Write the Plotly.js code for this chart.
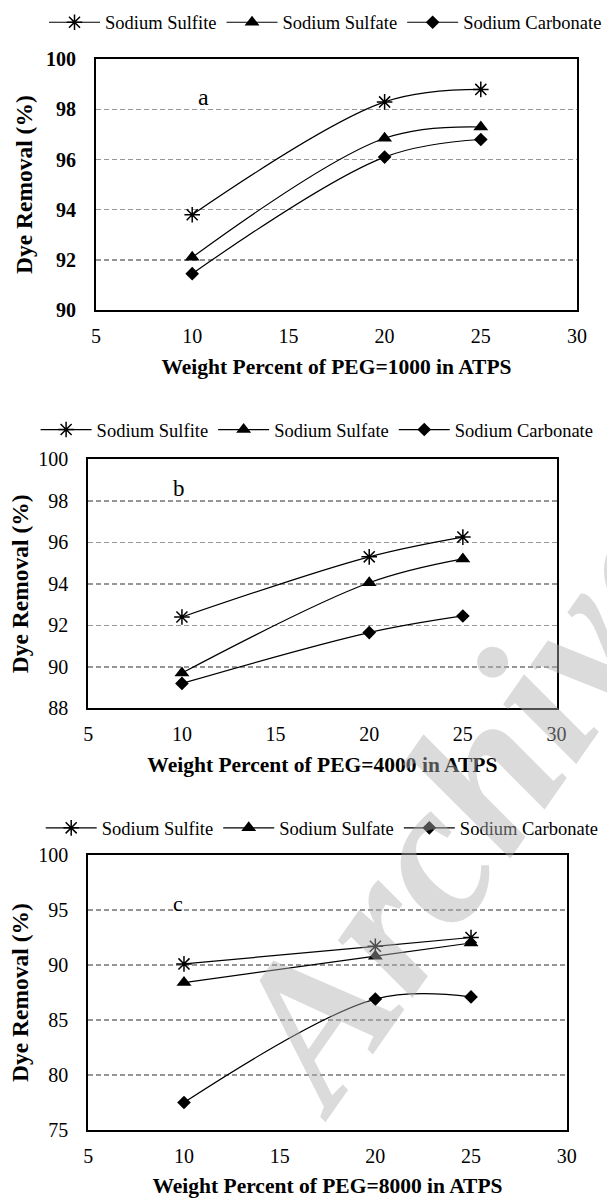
<!DOCTYPE html>
<html><head><meta charset="utf-8">
<script src="https://cdn.plot.ly/plotly-3.0.1.min.js"></script>
<style>html,body{margin:0;padding:0;background:#fff}</style>
</head><body>
<div id="chart" style="width:607px;height:1198px"></div>
<script>
const xPeg = [10, 20, 25];
const seriesNames = ['Sodium Sulfite', 'Sodium Sulfate', 'Sodium Carbonate'];
const peg1000Sulfite = [93.8, 98.3, 98.8];
const peg1000Sulfate = [92.1, 96.85, 97.3];
const peg1000Carbonate = [91.45, 96.1, 96.8];
const peg4000Sulfite = [92.4, 95.3, 96.25];
const peg4000Sulfate = [89.7, 94.05, 95.2];
const peg4000Carbonate = [89.2, 91.65, 92.45];
const peg8000Sulfite = [90.1, 91.7, 92.5];
const peg8000Sulfate = [88.4, 90.8, 92.0];
const peg8000Carbonate = [77.5, 86.9, 87.1];
const xTickVals = [5, 10, 15, 20, 25, 30];
const panelLetters = ['a', 'b', 'c'];
const xTitles = ['Weight Percent of PEG=1000 in ATPS', 'Weight Percent of PEG=4000 in ATPS', 'Weight Percent of PEG=8000 in ATPS'];
const yTitle = 'Dye Removal (%)';
const watermarkText = 'Archive';

const FONT = 'Liberation Serif, Times New Roman, serif';
const markers = [
  {symbol: 'asterisk-open', size: 13, color: '#000', line: {color: '#000', width: 1.5}},
  {symbol: 'triangle-up', size: 13, color: '#000', line: {width: 0}},
  {symbol: 'diamond', size: 10.5, color: '#000', line: {width: 0}}
];
const panels = [
  [peg1000Sulfite, peg1000Sulfate, peg1000Carbonate],
  [peg4000Sulfite, peg4000Sulfate, peg4000Carbonate],
  [peg8000Sulfite, peg8000Sulfate, peg8000Carbonate]
];
const traces = [];
panels.forEach((series, p) => {
  series.forEach((ys, s) => {
    traces.push({
      type: 'scatter', mode: 'lines+markers',
      x: xPeg, y: ys, name: seriesNames[s],
      xaxis: p === 0 ? 'x' : 'x' + (p + 1),
      yaxis: p === 0 ? 'y' : 'y' + (p + 1),
      legend: p === 0 ? 'legend' : 'legend' + (p + 1),
      line: {color: '#000', width: 1.2, shape: 'spline'},
      marker: markers[s],
      hoverinfo: 'x+y+name'
    });
  });
});

function xAxis(p, dom, anchor) {
  return {
    domain: dom, anchor: anchor, range: [5, 30], tickvals: xTickVals,
    showgrid: false, zeroline: false, showline: true, mirror: true,
    linecolor: '#000', linewidth: 2, ticks: '', ticklabelstandoff: 7,
    tickfont: {family: FONT, size: 20, color: '#000'},
    automargin: true,
    title: {text: xTitles[p], standoff: 13, font: {family: FONT, size: 21.5, color: '#000', weight: 'bold'}}
  };
}
function yAxis(p, dom, anchor, range, dtick, bold) {
  return {
    domain: dom, anchor: anchor, range: range, dtick: dtick,
    showgrid: true, gridcolor: '#959595', gridwidth: 1.5, griddash: '5px,3px',
    zeroline: false, showline: true, mirror: true,
    linecolor: '#000', linewidth: 2, ticks: '', ticklabelstandoff: 14,
    tickfont: {family: FONT, size: 20, color: '#000', weight: bold ? 'bold' : 'normal'},
    automargin: true,
    title: {text: yTitle, standoff: bold ? 7 : 3, font: {family: FONT, size: 23.5, color: '#000', weight: 'bold'}}
  };
}
function legendCfg(x, y) {
  return {
    orientation: 'h', x: x, y: y, xanchor: 'left', yanchor: 'middle',
    bgcolor: 'rgba(0,0,0,0)', borderwidth: 0, itemwidth: 51,
    font: {family: FONT, size: 18.5, color: '#000'}, traceorder: 'normal'
  };
}
const layout = {
  width: 607, height: 1198,
  margin: {l: 0, r: 0, t: 0, b: 0, autoexpand: false},
  paper_bgcolor: '#fff', plot_bgcolor: 'rgba(0,0,0,0)',
  font: {family: FONT, color: '#000'},
  showlegend: true,
  xaxis: xAxis(0, [96 / 607, 577 / 607], 'y'),
  yaxis: yAxis(0, [1 - 310 / 1198, 1 - 59.3 / 1198], 'x', [90, 100], 2, true),
  xaxis2: xAxis(1, [88.3 / 607, 556.5 / 607], 'y2'),
  yaxis2: yAxis(1, [1 - 708.3 / 1198, 1 - 459.3 / 1198], 'x2', [88, 100], 2, false),
  xaxis3: xAxis(2, [88.3 / 607, 566.7 / 607], 'y3'),
  yaxis3: yAxis(2, [1 - 1130 / 1198, 1 - 855 / 1198], 'x3', [75, 100], 5, false),
  legend: legendCfg(44 / 607, 1 - 22.7 / 1198),
  legend2: legendCfg(35.6 / 607, 1 - 430 / 1198),
  legend3: legendCfg(40.7 / 607, 1 - 828.3 / 1198),
  annotations: [
    {xref: 'paper', yref: 'paper', x: 203 / 607, y: 1 - 97 / 1198, xanchor: 'center', yanchor: 'middle', text: panelLetters[0], showarrow: false, font: {family: FONT, size: 24, color: '#000'}},
    {xref: 'paper', yref: 'paper', x: 179 / 607, y: 1 - 489 / 1198, xanchor: 'center', yanchor: 'middle', text: panelLetters[1], showarrow: false, font: {family: FONT, size: 23, color: '#000'}},
    {xref: 'paper', yref: 'paper', x: 177.5 / 607, y: 1 - 903 / 1198, xanchor: 'center', yanchor: 'middle', text: panelLetters[2], showarrow: false, font: {family: FONT, size: 22, color: '#000'}},
    {xref: 'paper', yref: 'paper', x: 460 / 607, y: 1 - 808 / 1198, xanchor: 'center', yanchor: 'middle', text: watermarkText, showarrow: false, textangle: -55,
     font: {family: FONT, size: 205, color: 'rgba(175,175,175,0.45)', weight: 'bold', style: 'italic'}}
  ]
};
Plotly.newPlot('chart', traces, layout, {displayModeBar: false, staticPlot: true});
</script>
</body></html>
